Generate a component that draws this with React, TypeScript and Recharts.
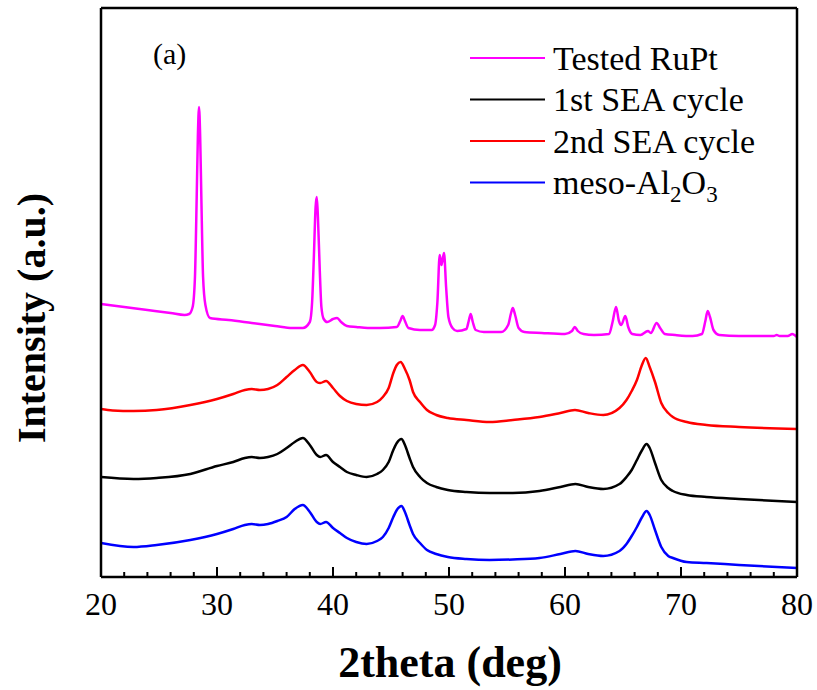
import { LineChart, Line, XAxis, YAxis, Legend, Label } from 'recharts';

// 2theta (deg) vs. intensity (a.u., offset traces)
const testedRuPt: [number, number][] = [
    [20, 273], [22, 270], [24, 267], [26, 264], [27.2, 262], [27.6, 263], [27.9, 270], [28.1, 300],
    [28.25, 380], [28.35, 440], [28.45, 470], [28.55, 440], [28.65, 380], [28.8, 300], [29.0, 272],
    [29.4, 259], [31, 257], [33, 254], [35, 251], [36.5, 249], [37.4, 249], [38.0, 255], [38.2, 275],
    [38.35, 320], [38.5, 370], [38.6, 380], [38.7, 360], [38.85, 310], [39.0, 270], [39.2, 258],
    [39.5, 255], [40.0, 258], [40.35, 259], [40.7, 255], [41.2, 251], [42, 250], [43, 249], [44.05, 249],
    [45.5, 250], [45.8, 256], [46.0, 261], [46.2, 256], [46.5, 249], [47.5, 247], [48.5, 247],
    [48.8, 252], [49.0, 275], [49.2, 322], [49.35, 312], [49.57, 324], [49.75, 290], [49.95, 260],
    [50.3, 249], [50.7, 246], [51.5, 248], [51.7, 256], [51.87, 263], [52.05, 255], [52.3, 247],
    [53, 245], [54.5, 245], [55.1, 252], [55.35, 264], [55.5, 269], [55.7, 262], [56.0, 249],
    [56.5, 245], [58, 244], [60, 243], [60.6, 246], [60.84, 250], [61.1, 246], [61.6, 243], [62.5, 242],
    [63.8, 243], [64.1, 255], [64.4, 270], [64.65, 256], [64.85, 252], [65.2, 261], [65.45, 250],
    [65.8, 243], [66.5, 242], [67.15, 246], [67.4, 244], [67.9, 254], [68.2, 249], [68.6, 243],
    [69.5, 242], [71.0, 241], [71.8, 243], [72.1, 256], [72.3, 266], [72.5, 260], [72.8, 247],
    [73.3, 242], [75, 241], [78.0, 241], [78.25, 242], [78.5, 241], [79.2, 241], [79.6, 243], [80, 240],
];

const firstCycle: [number, number][] = [
    [20, 100], [22.8, 98], [24.8, 99], [27.7, 103], [30.0, 111], [31.4, 115], [32.4, 119], [33.0, 120],
    [33.7, 119], [34.4, 120], [35.2, 123], [36.0, 129], [36.7, 135], [37.4, 139], [38.0, 132],
    [38.6, 122], [38.9, 120], [39.4, 122], [40.0, 115], [40.6, 110], [41.2, 105], [42.0, 102],
    [42.9, 100], [43.8, 103], [44.3, 107], [44.8, 115], [45.2, 127], [45.5, 134], [45.9, 138],
    [46.2, 132], [46.6, 119], [46.9, 110], [47.5, 100], [48.1, 94], [48.9, 90], [49.9, 87], [51.5, 85],
    [53.5, 84], [55.5, 84], [57.8, 86], [59.6, 90], [60.9, 93], [62.0, 90], [63.3, 88], [64.7, 93],
    [65.3, 100], [65.75, 107], [66.2, 117], [66.6, 126], [67.04, 133], [67.3, 129], [67.76, 114],
    [68.3, 97], [68.9, 89], [69.3, 86], [70.5, 82], [72.2, 80], [75, 78], [80, 75],
];

const secondCycle: [number, number][] = [
    [20, 168], [21, 166.5], [22.8, 166], [24.8, 167], [27.7, 172], [30.0, 178], [31.4, 183], [32.4, 187],
    [33.0, 188], [33.7, 187], [34.4, 188], [35.2, 192], [36.0, 200], [36.7, 207], [37.4, 212],
    [38.0, 205], [38.6, 195], [38.9, 194], [39.4, 196], [40.0, 189], [40.6, 181], [41.2, 176],
    [42.0, 173], [42.9, 172], [43.8, 175], [44.3, 180], [44.8, 189], [45.2, 204], [45.5, 212],
    [45.83, 215], [46.2, 208], [46.6, 197], [46.9, 185], [47.5, 175], [48.1, 167], [48.9, 162],
    [49.9, 159], [51.5, 157], [53.5, 155], [55.5, 157], [57.8, 160], [59.6, 164], [60.86, 167],
    [62.0, 164], [63.3, 162], [64.7, 169], [65.3, 177], [65.75, 186], [66.2, 197], [66.6, 211],
    [66.96, 219], [67.3, 210], [67.76, 195], [68.3, 174], [68.9, 164], [69.3, 160], [70.5, 155],
    [72.2, 152], [75, 150], [80, 148],
];

const mesoAl2O3: [number, number][] = [
    [20, 34], [22.8, 30], [24.8, 32], [27.7, 37], [30.0, 43], [31.4, 48], [32.4, 52], [33.0, 53],
    [33.7, 52], [34.4, 53], [35.2, 56], [36.0, 60], [36.7, 68], [37.4, 72], [38.0, 65], [38.6, 55],
    [38.9, 53], [39.4, 55], [40.0, 49], [40.6, 44], [41.2, 39], [42.0, 35], [42.9, 33], [43.8, 36],
    [44.3, 40], [44.8, 49], [45.2, 60], [45.5, 67], [45.9, 71], [46.2, 65], [46.6, 52], [46.9, 43],
    [47.5, 34], [48.1, 27], [48.9, 23], [49.9, 20], [51.5, 18], [53.5, 17], [55.5, 17.5], [57.8, 19],
    [59.6, 23], [60.9, 26], [62.0, 23], [63.3, 21], [64.7, 26], [65.3, 33], [65.75, 41], [66.2, 50],
    [66.6, 59], [67.04, 66], [67.3, 62], [67.76, 47], [68.3, 30], [68.9, 21], [69.3, 19], [70.5, 15],
    [72.2, 14], [75, 12], [80, 9],
];

const xTicks = [20, 22, 24, 26, 28, 30, 32, 34, 36, 38, 40, 42, 44, 46, 48, 50, 52, 54, 56, 58, 60, 62, 64, 66, 68, 70, 72, 74, 76, 78, 80];
const yTicks = [33.5, 67, 100.4, 133.9, 167.4, 200.8, 234.3, 267.8, 301.2, 334.7, 368.2, 401.6, 435.1, 468.6, 502, 535.5];

const SERIES = [
    { name: 'Tested RuPt', color: '#FF00FF', data: testedRuPt },
    { name: '1st SEA cycle', color: '#000000', data: firstCycle },
    { name: '2nd SEA cycle', color: '#FF0000', data: secondCycle },
    { name: 'meso-Al2O3', color: '#0000FF', data: mesoAl2O3 },
];

const FONT = '"Liberation Serif", "Times New Roman", serif';

const toPoints = (s: [number, number][]) => s.map(([x, y]) => ({ x, y }));

// bottom ticks point into the plot; only every 10 deg gets a label
const BottomTick = ({ x, y, payload }: any) => {
    const major = payload.value % 10 === 0;
    return (
        <g>
            <line x1={x} y1={y} x2={x} y2={y - (major ? 10 : 5)} stroke="#000" strokeWidth={2} />
            {major && (
                <text x={x} y={y + 38} textAnchor="middle" fontFamily={FONT} fontSize={32} fill="#000">
                    {payload.value}
                </text>
            )}
        </g>
    );
};

const renderLegend = () => (
    <svg width={360} height={220}>
        {SERIES.map((s, i) => {
            const ly = 58 + i * 41.5;
            return (
                <g key={s.name}>
                    <line x1={30} x2={105} y1={ly} y2={ly} stroke={s.color} strokeWidth={2.2} />
                    <text x={113} y={ly + 11.5} fontFamily={FONT} fontSize={34} fill="#000">
                        {s.name === 'meso-Al2O3' ? (
                            <>
                                meso-Al<tspan fontSize={23} dy={8}>2</tspan>
                                <tspan dy={-8}>O</tspan>
                                <tspan fontSize={23} dy={8}>3</tspan>
                            </>
                        ) : s.name}
                    </text>
                </g>
            );
        })}
    </svg>
);

const frameLine = { stroke: '#000', strokeWidth: 2.5 };

export default function App() {
    return (
        <div style={{ position: 'absolute', left: 0, top: 0, width: 817, height: 690, background: '#fff' }}>
            <LineChart width={817} height={690} margin={{ top: 7, right: 19, left: 100, bottom: 112 }}>
                <XAxis
                    dataKey="x"
                    type="number"
                    domain={[20, 80]}
                    ticks={xTicks}
                    interval={0}
                    height={1}
                    tickSize={0}
                    tickMargin={0}
                    tickLine={false}
                    tick={<BottomTick />}
                    axisLine={frameLine}
                    allowDataOverflow
                >
                    <Label
                        content={() => (
                            <text x={450} y={677} textAnchor="middle" fontFamily={FONT} fontWeight="bold" fontSize={44} fill="#000">
                                2theta (deg)
                            </text>
                        )}
                    />
                </XAxis>
                <XAxis
                    xAxisId="top"
                    orientation="top"
                    type="number"
                    domain={[20, 80]}
                    ticks={xTicks}
                    interval={0}
                    height={1}
                    tick={false}
                    tickSize={-3}
                    tickLine={{ stroke: '#ccc', strokeWidth: 1 }}
                    axisLine={frameLine}
                />
                <YAxis
                    type="number"
                    domain={[0, 569]}
                    ticks={yTicks}
                    interval={0}
                    width={1}
                    tick={false}
                    tickSize={-3}
                    tickLine={{ stroke: '#bbb', strokeWidth: 1 }}
                    axisLine={frameLine}
                    allowDataOverflow
                >
                    <Label
                        content={() => (
                            <text x={45} y={318} transform="rotate(-90, 45, 318)" textAnchor="middle" fontFamily={FONT} fontWeight="bold" fontSize={40} fill="#000">
                                Intensity (a.u.)
                            </text>
                        )}
                    />
                </YAxis>
                <YAxis
                    yAxisId="right"
                    orientation="right"
                    type="number"
                    domain={[0, 569]}
                    ticks={yTicks}
                    interval={0}
                    width={1}
                    tick={false}
                    tickSize={-3}
                    tickLine={{ stroke: '#bbb', strokeWidth: 1 }}
                    axisLine={frameLine}
                />
                <Legend
                    layout="vertical"
                    align="center"
                    verticalAlign="middle"
                    content={renderLegend}
                    wrapperStyle={{ position: 'absolute', left: 440, top: 0, width: 360, height: 220 }}
                />
                {SERIES.map(s => (
                    <Line
                        key={s.name}
                        data={toPoints(s.data)}
                        dataKey="y"
                        name={s.name}
                        type="monotone"
                        stroke={s.color}
                        strokeWidth={2.5}
                        dot={false}
                        activeDot={false}
                        isAnimationActive={false}
                    />
                ))}
            </LineChart>
            <div style={{ position: 'absolute', left: 153, top: 36, fontFamily: FONT, fontSize: 30, lineHeight: '36px', color: '#000' }}>
                (a)
            </div>
        </div>
    );
}
